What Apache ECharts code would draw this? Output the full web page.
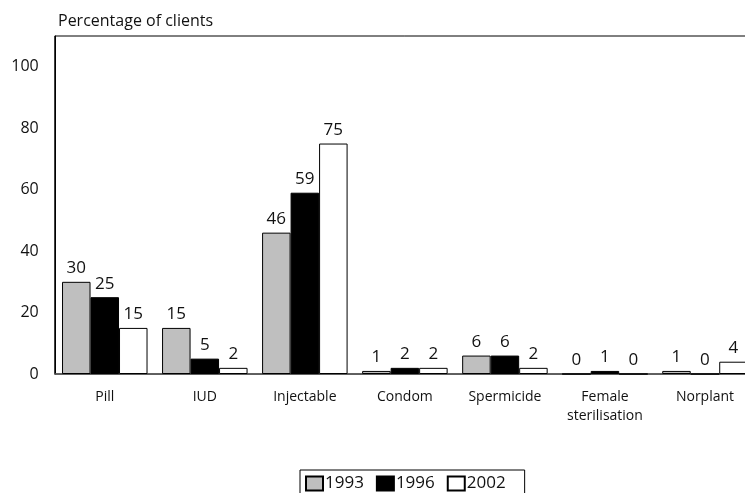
<!DOCTYPE html>
<html>
<head>
<meta charset="utf-8">
<script src="https://cdn.jsdelivr.net/npm/echarts@6/dist/echarts.min.js"></script>
<style>
  html, body { margin: 0; padding: 0; overflow: hidden; background: #fff; }
  #chart { width: 755px; height: 493px; }
</style>
</head>
<body>
<div id="chart"></div>
<script>
// Contraceptive method used, share of clients by survey year
const categories = ['Pill', 'IUD', 'Injectable', 'Condom', 'Spermicide', 'Female\nsterilisation', 'Norplant'];
const years = ['1993', '1996', '2002'];
const values1993 = [30, 15, 46, 1, 6, 0, 1];
const values1996 = [25, 5, 59, 2, 6, 1, 0];
const values2002 = [15, 2, 75, 2, 2, 0, 4];
const yTicks = [0, 20, 40, 60, 80, 100];

const FONT = '"Open Sans", "DejaVu Sans", sans-serif';
const fills = ['#bfbfbf', '#000000', '#ffffff'];
const seriesValues = [values1993, values1996, values2002];

const chart = echarts.init(document.getElementById('chart'), null, { renderer: 'canvas' });

chart.setOption({
  animation: false,
  backgroundColor: '#ffffff',
  textStyle: { fontFamily: FONT, color: '#111' },
  title: {
    text: 'Percentage of clients',
    left: 53,
    top: 8,
    textStyle: { fontFamily: FONT, fontSize: 16, fontWeight: 'normal', color: '#111' }
  },
  grid: {
    left: 54.75,
    right: 0,
    top: 36,
    bottom: 119,
    show: true,
    borderColor: '#000',
    borderWidth: 1,
    backgroundColor: 'transparent'
  },
  legend: {
    left: 300,
    top: 470,
    padding: [5, 19, 8, 5],
    borderColor: '#000',
    borderWidth: 1,
    itemWidth: 17,
    itemHeight: 14,
    itemGap: 12,
    icon: 'rect',
    textStyle: { fontFamily: FONT, fontSize: 17, color: '#111', padding: [0, 0, 0, -3] },
    data: years
  },
  xAxis: {
    type: 'category',
    data: categories,
    axisLine: { show: true, lineStyle: { color: '#555', width: 1.5 } },
    axisTick: { show: false },
    axisLabel: { fontFamily: FONT, fontSize: 14, color: '#111', margin: 14, lineHeight: 19 }
  },
  yAxis: {
    type: 'value',
    min: 0,
    max: 110,
    interval: 20,
    splitLine: { show: false },
    axisLine: { show: true, lineStyle: { color: '#000', width: 1 } },
    axisTick: { show: false },
    axisLabel: {
      fontFamily: FONT, fontSize: 16, color: '#111', margin: 16,
      showMaxLabel: false,
      formatter: v => (yTicks.indexOf(v) >= 0 ? String(v) : '')
    }
  },
  series: years.map((y, i) => ({
    name: y,
    type: 'bar',
    data: seriesValues[i],
    barWidth: 28.5,
    barGap: '0%',
    itemStyle: { color: fills[i], borderColor: '#000', borderWidth: 1 },
    label: {
      show: true,
      position: 'top',
      distance: 5,
      fontFamily: FONT,
      fontSize: 17,
      color: '#111'
    }
  }))
});
</script>
</body>
</html>
